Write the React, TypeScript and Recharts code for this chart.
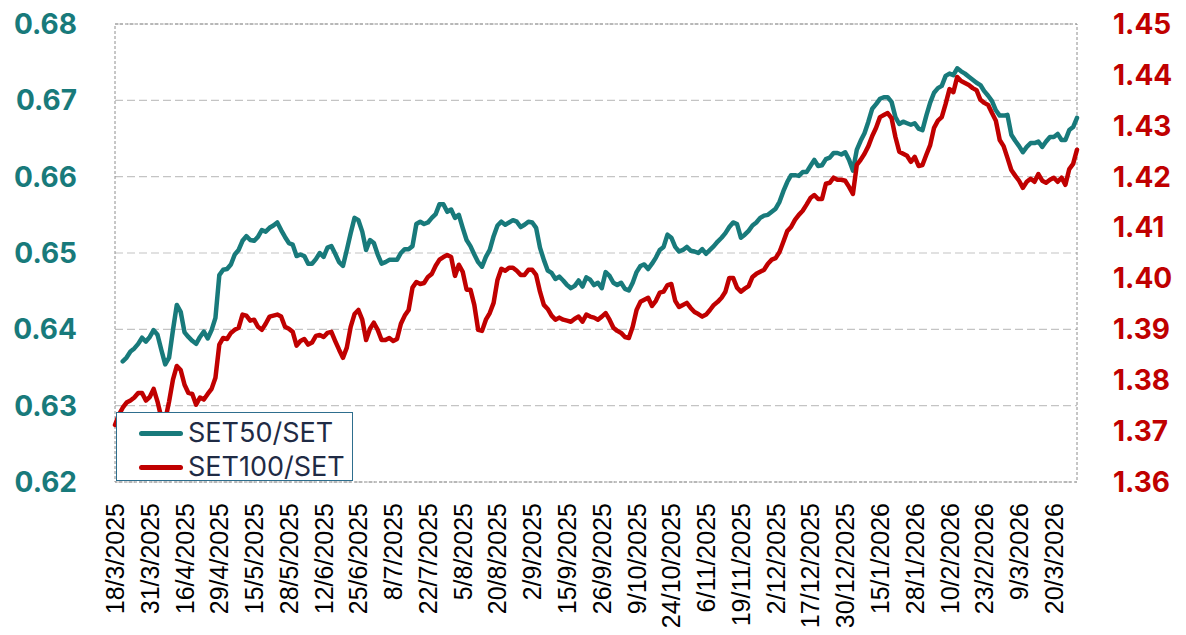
import React from 'react';
import { LineChart, Line, XAxis, YAxis, CartesianGrid, ReferenceArea } from 'recharts';

const tickLabels = [
  '18/3/2025', '31/3/2025', '16/4/2025', '29/4/2025', '15/5/2025', '28/5/2025', '12/6/2025',
  '25/6/2025', '8/7/2025', '22/7/2025', '5/8/2025', '20/8/2025', '2/9/2025', '15/9/2025',
  '26/9/2025', '9/10/2025', '24/10/2025', '6/11/2025', '19/11/2025', '2/12/2025', '17/12/2025',
  '30/12/2025', '15/1/2026', '28/1/2026', '10/2/2026', '23/2/2026', '9/3/2026', '20/3/2026',
];
const tickStep = 9;

const leftTicks = [0.62, 0.63, 0.64, 0.65, 0.66, 0.67, 0.68];
const rightTicks = [1.36, 1.37, 1.38, 1.39, 1.4, 1.41, 1.42, 1.43, 1.44, 1.45];

const seriesNames = ['SET50/SET', 'SET100/SET'];

const set50: (number | null)[] = [
  null, null, 0.6358, 0.6363, 0.6371, 0.6375, 0.6381, 0.6389, 0.6384, 0.6390,
  0.6399, 0.6393, 0.6373, 0.6354, 0.6363, 0.6399, 0.6432, 0.6423, 0.6396, 0.6390,
  0.6385, 0.6381, 0.6390, 0.6397, 0.6388, 0.6399, 0.6415, 0.6471, 0.6478, 0.6479,
  0.6485, 0.6498, 0.6504, 0.6516, 0.6522, 0.6517, 0.6516, 0.6521, 0.6530, 0.6528,
  0.6533, 0.6536, 0.6540, 0.6530, 0.6521, 0.6513, 0.6511, 0.6496, 0.6498, 0.6496,
  0.6486, 0.6486, 0.6492, 0.6500, 0.6495, 0.6507, 0.6509, 0.6499, 0.6488, 0.6483,
  0.6504, 0.6526, 0.6546, 0.6543, 0.6528, 0.6504, 0.6517, 0.6513, 0.6498, 0.6486,
  0.6488, 0.6491, 0.6491, 0.6491, 0.6500, 0.6505, 0.6505, 0.6509, 0.6538, 0.6541,
  0.6538, 0.6540, 0.6546, 0.6551, 0.6564, 0.6564, 0.6554, 0.6557, 0.6546, 0.6550,
  0.6533, 0.6517, 0.6509, 0.6498, 0.6488, 0.6482, 0.6495, 0.6504, 0.6522, 0.6536,
  0.6541, 0.6537, 0.6540, 0.6543, 0.6541, 0.6534, 0.6537, 0.6541, 0.6540, 0.6533,
  0.6507, 0.6491, 0.6477, 0.6474, 0.6466, 0.6469, 0.6464, 0.6458, 0.6454, 0.6457,
  0.6464, 0.6456, 0.6468, 0.6465, 0.6458, 0.6461, 0.6454, 0.6475, 0.6470, 0.6461,
  0.6458, 0.6461, 0.6453, 0.6451, 0.6461, 0.6475, 0.6483, 0.6485, 0.6479, 0.6486,
  0.6494, 0.6504, 0.6508, 0.6524, 0.6520, 0.6508, 0.6502, 0.6504, 0.6508, 0.6503,
  0.6502, 0.6500, 0.6505, 0.6499, 0.6504, 0.6509, 0.6515, 0.6520, 0.6526, 0.6534,
  0.6540, 0.6538, 0.6520, 0.6524, 0.6529, 0.6536, 0.6540, 0.6546, 0.6549, 0.6550,
  0.6554, 0.6558, 0.6567, 0.6581, 0.6593, 0.6602, 0.6602, 0.6601, 0.6606, 0.6606,
  0.6614, 0.6622, 0.6614, 0.6615, 0.6623, 0.6625, 0.6631, 0.6631, 0.6629, 0.6632,
  0.6622, 0.6608, 0.6635, 0.6647, 0.6657, 0.6672, 0.6689, 0.6695, 0.6702, 0.6704,
  0.6704, 0.6698, 0.6678, 0.6669, 0.6672, 0.6670, 0.6668, 0.6670, 0.6663, 0.6661,
  0.6680, 0.6697, 0.6710, 0.6716, 0.6719, 0.6732, 0.6735, 0.6733, 0.6742, 0.6738,
  0.6735, 0.6731, 0.6727, 0.6723, 0.6720, 0.6712, 0.6706, 0.6699, 0.6687, 0.6680,
  0.6680, 0.6681, 0.6655, 0.6647, 0.6640, 0.6632, 0.6639, 0.6644, 0.6644, 0.6646,
  0.6639, 0.6646, 0.6652, 0.6652, 0.6656, 0.6648, 0.6648, 0.6661, 0.6665, 0.6677,
];

const set100: number[] = [
  1.3712, 1.3732, 1.3746, 1.3756, 1.3760, 1.3766, 1.3775, 1.3775, 1.3760, 1.3767,
  1.3783, 1.3758, 1.3726, 1.3722, 1.3758, 1.3801, 1.3828, 1.3820, 1.3791, 1.3775,
  1.3773, 1.3752, 1.3766, 1.3762, 1.3773, 1.3783, 1.3805, 1.3870, 1.3883, 1.3881,
  1.3893, 1.3899, 1.3903, 1.3929, 1.3927, 1.3917, 1.3919, 1.3905, 1.3899, 1.3911,
  1.3925, 1.3927, 1.3929, 1.3925, 1.3905, 1.3901, 1.3895, 1.3868, 1.3877, 1.3881,
  1.3870, 1.3874, 1.3887, 1.3889, 1.3885, 1.3893, 1.3895, 1.3877, 1.3860, 1.3844,
  1.3864, 1.3905, 1.3930, 1.3938, 1.3919, 1.3879, 1.3901, 1.3913, 1.3899, 1.3879,
  1.3879, 1.3883, 1.3877, 1.3881, 1.3911, 1.3927, 1.3938, 1.3982, 1.3993, 1.3989,
  1.3991, 1.4003, 1.4009, 1.4025, 1.4037, 1.4042, 1.4046, 1.4042, 1.4005, 1.4027,
  1.4013, 1.3978, 1.3978, 1.3948, 1.3899, 1.3897, 1.3919, 1.3932, 1.3952, 1.3997,
  1.4019, 1.4015, 1.4021, 1.4021, 1.4015, 1.4007, 1.4007, 1.4017, 1.4017, 1.4007,
  1.3974, 1.3948, 1.3940, 1.3927, 1.3919, 1.3923, 1.3919, 1.3917, 1.3915, 1.3921,
  1.3925, 1.3915, 1.3929, 1.3925, 1.3923, 1.3919, 1.3925, 1.3932, 1.3919, 1.3903,
  1.3897, 1.3893, 1.3885, 1.3883, 1.3905, 1.3938, 1.3954, 1.3958, 1.3962, 1.3946,
  1.3956, 1.3972, 1.3974, 1.3987, 1.3989, 1.3956, 1.3944, 1.3948, 1.3952, 1.3942,
  1.3934, 1.3930, 1.3925, 1.3929, 1.3938, 1.3948, 1.3954, 1.3962, 1.3974, 1.4001,
  1.4001, 1.3982, 1.3974, 1.3980, 1.3985, 1.4003, 1.4009, 1.4013, 1.4017, 1.4029,
  1.4037, 1.4040, 1.4052, 1.4072, 1.4093, 1.4101, 1.4115, 1.4125, 1.4133, 1.4145,
  1.4158, 1.4164, 1.4156, 1.4156, 1.4186, 1.4188, 1.4198, 1.4194, 1.4194, 1.4192,
  1.4180, 1.4166, 1.4223, 1.4233, 1.4245, 1.4260, 1.4280, 1.4296, 1.4317, 1.4321,
  1.4325, 1.4315, 1.4278, 1.4249, 1.4245, 1.4241, 1.4229, 1.4239, 1.4221, 1.4223,
  1.4243, 1.4262, 1.4296, 1.4310, 1.4317, 1.4343, 1.4372, 1.4366, 1.4396, 1.4388,
  1.4384, 1.4380, 1.4374, 1.4370, 1.4351, 1.4345, 1.4341, 1.4325, 1.4310, 1.4272,
  1.4260, 1.4237, 1.4213, 1.4202, 1.4192, 1.4178, 1.4190, 1.4196, 1.4190, 1.4205,
  1.4192, 1.4188, 1.4194, 1.4198, 1.4190, 1.4198, 1.4184, 1.4215, 1.4225, 1.4253,
];

const TEAL = '#187A7B';
const RED = '#C00000';

const data = set100.map((v, i) => ({ i, set50: set50[i], set100: v }));

const XTick = (props: any) => {
  const { x, y, payload } = props;
  const idx = Math.round(payload.value / tickStep);
  const label = tickLabels[idx] ?? '';
  return (
    <g transform={`translate(${x},${y + 21})`}>
      <text
        x={0}
        y={0}
        transform="rotate(-90)"
        textAnchor="end"
        dy="0.36em"
        fontFamily="'Liberation Sans', Arial, sans-serif"
        fontSize={25}
        fill="#000"
      >
        {label}
      </text>
    </g>
  );
};

const LegendBox = () => (
  <div
    style={{
      position: 'absolute',
      left: 116,
      top: 412,
      width: 235,
      height: 67,
      background: '#fff',
      border: '1.5px solid #2E6E8E',
      boxSizing: 'content-box',
      fontFamily: 'Inter, sans-serif',
    }}
  >
    {seriesNames.map((name, k) => (
      <div
        key={name}
        style={{
          position: 'absolute',
          left: 22,
          top: 5 + k * 34,
          height: 30,
          display: 'flex',
          alignItems: 'center',
        }}
      >
        <div
          style={{
            width: 44,
            height: 5,
            borderRadius: 3,
            background: k === 0 ? TEAL : RED,
            marginRight: 5,
          }}
        />
        <span style={{ fontSize: 27, color: '#1F2B45', lineHeight: '30px', whiteSpace: 'nowrap' }}>{name}</span>
      </div>
    ))}
  </div>
);

export default function App() {
  return (
    <div style={{ position: 'absolute', left: 0, top: 0, width: 1186, height: 635, background: '#fff' }}>
      <LineChart width={1186} height={635} data={data} margin={{ top: 24, right: 0, bottom: 0, left: 0 }}>
        <CartesianGrid yAxisId="left" vertical={false} stroke="#C4C4C4" strokeDasharray="8 4" strokeWidth={1.2} />
        <ReferenceArea
          yAxisId="left"
          y1={0.62}
          y2={0.68}
          fill="none"
          stroke="#8E8E8E"
          strokeDasharray="3 2"
          strokeWidth={1}
          ifOverflow="visible"
        />
        <XAxis
          dataKey="i"
          type="category"
          interval={tickStep - 1}
          height={153}
          axisLine={false}
          tickLine={false}
          tickSize={0}
          tickMargin={0}
          tick={<XTick />}
        />
        <YAxis
          yAxisId="left"
          orientation="left"
          width={115}
          domain={[0.62, 0.68]}
          ticks={leftTicks}
          tickFormatter={(v: number) => v.toFixed(2)}
          axisLine={false}
          tickLine={false}
          tickSize={0}
          tickMargin={38}
          tick={{ fill: TEAL, fontSize: 28, fontWeight: 700, fontFamily: 'Inter, sans-serif' }}
          allowDataOverflow
        />
        <YAxis
          yAxisId="right"
          orientation="right"
          width={109}
          domain={[1.36, 1.45]}
          ticks={rightTicks}
          tickFormatter={(v: number) => v.toFixed(2)}
          axisLine={false}
          tickLine={false}
          tickSize={0}
          tickMargin={36}
          tick={{ fill: RED, fontSize: 28, fontWeight: 700, fontFamily: 'Inter, sans-serif' }}
          allowDataOverflow
        />
        <Line
          yAxisId="left"
          type="linear"
          dataKey="set50"
          name={seriesNames[0]}
          stroke={TEAL}
          strokeWidth={4.5}
          dot={false}
          activeDot={false}
          strokeLinejoin="round"
          strokeLinecap="round"
          isAnimationActive={false}
        />
        <Line
          yAxisId="right"
          type="linear"
          dataKey="set100"
          name={seriesNames[1]}
          stroke={RED}
          strokeWidth={4.5}
          dot={false}
          activeDot={false}
          strokeLinejoin="round"
          strokeLinecap="round"
          isAnimationActive={false}
        />
      </LineChart>
      <LegendBox />
    </div>
  );
}
